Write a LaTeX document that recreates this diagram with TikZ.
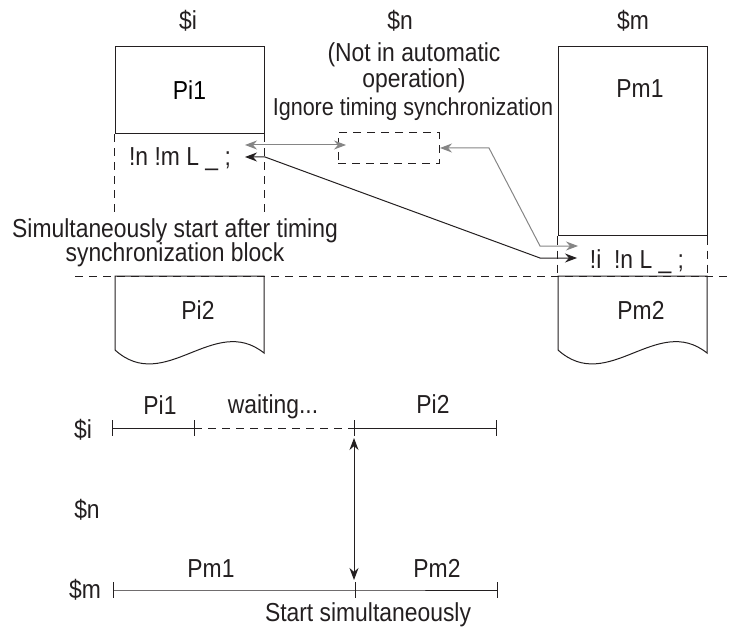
\documentclass[tikz,border=0pt]{standalone}
\usepackage{fontspec}
\setmainfont[FakeStretch=0.88]{Liberation Sans}
\usetikzlibrary{arrows.meta,positioning}
\definecolor{syncgray}{HTML}{858585}
\definecolor{inkblack}{HTML}{231F20}

\begin{document}
\begin{tikzpicture}[
  x=1pt, y=-1pt,
  font=\fontsize{26}{28}\selectfont,
  txt/.style={anchor=base, inner sep=0pt, text=inkblack},
  prog/.style={draw=inkblack, line width=1pt, minimum width=149pt, inner sep=0pt},
  guide/.style={draw=inkblack, line width=1pt, dash pattern=on 8pt off 6pt},
  tline/.style={draw=inkblack, line width=1pt},
  syncarr/.style={{Stealth[length=12pt,width=9pt]}-{Stealth[length=12pt,width=9pt]}, syncgray, line width=1pt},
  startarr/.style={{Stealth[length=12pt,width=9pt]}-{Stealth[length=12pt,width=9pt]}, inkblack, line width=1pt}
]
\useasboundingbox (0,0) rectangle (730,628);

% Three systems, program blocks
\node[txt] (si) at (188,30) {\$i};
\node[txt] (sn) at (400,30) {\$n};
\node[txt] (sm) at (633,30) {\$m};
\node[txt, align=center] (auto) at (414,88) {(Not in automatic\\[-2pt]operation)};
\node[txt, font=\fontsize{24.5}{26}\selectfont] (ignore) at (413,116) {Ignore timing synchronization};

\node[prog, minimum height=87pt] (pi1) at (189.5,90.5) {Pi1};
\node[prog, minimum height=189pt] (pm1box) at (632.5,141.5) {};
\node[txt] (pm1) at (640,98) {Pm1};
\node[draw=inkblack, line width=1pt, dash pattern=on 8pt off 6pt, minimum width=101pt, minimum height=31pt] (nbox) at (388.5,148.5) {};

% Timing synchronization blocks
\draw[guide] (pi1.south west) -- ++(0,82);
\draw[guide] (pi1.south east) -- ++(0,82);
\draw[guide] (pm1box.south west) -- ++(0,40);
\draw[guide] (pm1box.south east) -- ++(0,40);
\node[txt] (codei) at (180,166) {!n !m L \_ ;};
\node[txt] (codem) at (637,268) {!i\ \ !n L \_ ;};

\node[txt, align=center] (simul) at (175,261)
  {Simultaneously start after timing\\[-4pt]synchronization block};
\draw[guide] (75,276) -- (730,276);

% Rest of the programs
\foreach \x/\pname in {115/Pi2, 558/Pm2} {
  \draw[tline] (\x,350) -- (\x,276) -- ++(149,0) -- ++(0,77)
    .. controls +(-50,-40) and +(50,45) .. (\x,350);
  \node[txt] at (\x+83,319) {\pname};
}

% Connectors
\coordinate (gi) at (245,145);
\coordinate (gn) at (346,145);
\coordinate (gback) at (440,148);
\coordinate (gb1) at (489,148);
\coordinate (gb2) at (540,246);
\coordinate (gm) at (578,246);
\coordinate (bi) at (245,157);
\coordinate (b1) at (265,157);
\coordinate (b2) at (540,258);
\coordinate (bm) at (577,258);
\draw[syncarr] (gi) -- (gn);
\draw[syncarr] (gback) -- (gb1) -- (gb2) -- (gm);
\draw[startarr] (bi) -- (b1) -- (b2) -- (bm);

% Timing chart
\node[txt] (ti) at (83,438) {\$i};
\node[txt] (tn) at (87,518) {\$n};
\node[txt] (tm) at (85,598) {\$m};
\coordinate (si0) at (112,428);
\coordinate (si1) at (194,428);
\coordinate (si2) at (354,428);
\coordinate (si3) at (496,428);
\coordinate (sm0) at (113,590);
\coordinate (sm1) at (355,590);
\coordinate (sm2) at (497,590);
\draw[tline] (si0) -- (si1);
\draw[guide] (si1) -- (si2);
\draw[tline] (si2) -- (si3);
\draw[tline] (sm0) -- (sm1) -- (sm2);
\foreach \c in {si0,si1,si2,si3,sm0,sm1,sm2}
  \draw[tline] ([yshift=8pt]\c) -- ([yshift=-8pt]\c);
\node[txt] (lpi1) at (160,414) {Pi1};
\node[txt] (lwait) at (273,413) {waiting...};
\node[txt] (lpi2) at (433,413) {Pi2};
\node[txt] (lpm1) at (211,577) {Pm1};
\node[txt] (lpm2) at (437,577) {Pm2};
\coordinate (up) at (354,438);
\coordinate (down) at (354,580);
\draw[startarr] (up) -- (down);
\node[txt] (start) at (368,621) {Start simultaneously};

\end{tikzpicture}
\end{document}
